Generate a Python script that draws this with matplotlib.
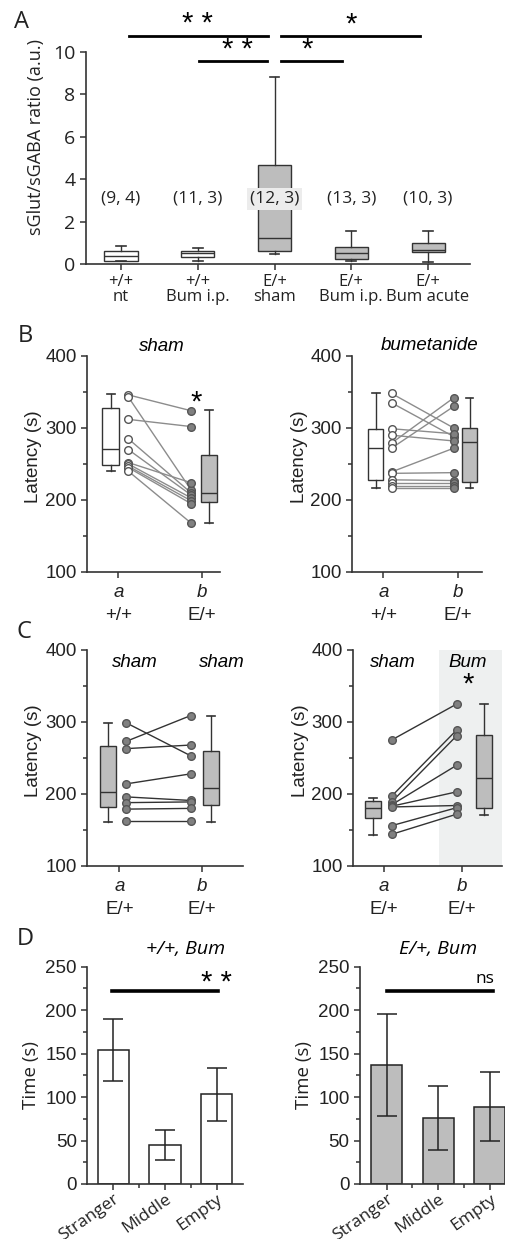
import numpy as np
import matplotlib.pyplot as plt
import matplotlib.transforms as mtransforms
from matplotlib.ticker import MultipleLocator, FixedLocator

plt.rcParams['font.family'] = ['Open Sans', 'DejaVu Sans']
ARIAL = ['Liberation Sans', 'DejaVu Sans']

# ---- data ----
# Panel A: sGlut/sGABA ratio box stats
a_groups = ['+/+\nnt', '+/+\nBum i.p.', 'E/+\nsham', 'E/+\nBum i.p.', 'E/+\nBum acute']
a_whislo = [0.12, 0.16, 0.48, 0.12, 0.10]
a_q1 = [0.15, 0.35, 0.60, 0.22, 0.55]
a_med = [0.40, 0.50, 1.25, 0.50, 0.67]
a_q3 = [0.60, 0.63, 4.68, 0.82, 1.00]
a_whishi = [0.85, 0.77, 8.83, 1.55, 1.57]
a_n = ['(9, 4)', '(11, 3)', '(12, 3)', '(13, 3)', '(10, 3)']
a_filled = [False, False, True, True, True]

# Panel B: latency, paired a (+/+) -> b (E/+)
b_sham_a = [346, 343, 312, 285, 270, 252, 250, 247, 245, 240]
b_sham_b = [324, 214, 302, 210, 207, 224, 203, 199, 195, 168]
b_sham_box_a = [240, 248, 271, 328, 347]   # whislo, q1, med, q3, whishi
b_sham_box_b = [168, 197, 210, 262, 325]
b_bum_a = [348, 335, 299, 290, 279, 272, 239, 237, 228, 223, 220, 217]
b_bum_b = [300, 288, 292, 282, 342, 330, 272, 238, 227, 223, 220, 217]
b_bum_box_a = [217, 228, 272, 298, 348]
b_bum_box_b = [217, 225, 281, 300, 342]

# Panel C: latency, E/+ a -> E/+ b
c_sham_a = [299, 273, 263, 214, 196, 188, 179, 162]
c_sham_b = [253, 309, 268, 228, 191, 189, 180, 162]
c_sham_box_a = [161, 182, 203, 267, 298]
c_sham_box_b = [161, 185, 209, 260, 309]
c_bum_a = [275, 197, 189, 185, 183, 182, 156, 144]
c_bum_b = [325, 289, 281, 240, 203, 184, 181, 172]
c_bum_box_a = [143, 166, 181, 190, 195]
c_bum_box_b = [171, 180, 222, 282, 325]

# Panel D: three-chamber time
d_cats = ['Stranger', 'Middle', 'Empty']
d_wt_mean = [154, 45, 103]
d_wt_err = [36, 17, 31]
d_e_mean = [137, 76, 89]
d_e_err = [59, 37, 40]

WHITE = 'white'
GRAY = '#bdbdbd'
DARK = '#333333'

W, H = 506, 1239
fig = plt.figure(figsize=(W / 100, H / 100), dpi=100)


def add_ax(left, top, right, bottom):
    return fig.add_axes([left / W, 1 - bottom / H, (right - left) / W, (bottom - top) / H])


def stat(v):
    return dict(whislo=v[0], q1=v[1], med=v[2], q3=v[3], whishi=v[4], fliers=[])


def draw_box(ax, v, x, fc, width=0.2, capw=0.1):
    res = ax.bxp([stat(v)], positions=[x], widths=width, capwidths=capw,
                 patch_artist=True, showfliers=False,
                 boxprops=dict(facecolor=fc, edgecolor=DARK, linewidth=1),
                 medianprops=dict(color=DARK, linewidth=1),
                 whiskerprops=dict(color=DARK, linewidth=1),
                 capprops=dict(color=DARK, linewidth=1.2), manage_ticks=False)
    return res


def style_axes(ax, fam, size=13):
    for s in ['top', 'right']:
        ax.spines[s].set_visible(False)
    for s in ['left', 'bottom']:
        ax.spines[s].set_color(DARK)
        ax.spines[s].set_linewidth(1.2)
    ax.tick_params(colors=DARK, width=1.1, length=4, labelsize=size)
    for lab in ax.get_yticklabels() + ax.get_xticklabels():
        lab.set_family(fam)
        lab.set_color('#222222')


# ---- Panel A ----
ax = add_ax(86, 9.6, 470, 264)
pos = np.arange(1, 6)
stats = [stat(v) for v in zip(a_whislo, a_q1, a_med, a_q3, a_whishi)]
res = ax.bxp(stats, positions=pos, widths=0.43, capwidths=0.13, patch_artist=True,
             showfliers=False, boxprops=dict(edgecolor=DARK, linewidth=1),
             medianprops=dict(color=DARK, linewidth=1),
             whiskerprops=dict(color=DARK, linewidth=1),
             capprops=dict(color=DARK, linewidth=1.2))
for patch, f in zip(res['boxes'], a_filled):
    patch.set_facecolor(GRAY if f else WHITE)
ax.set_xlim(0.544, 5.547)
ax.set_ylim(0, 12)
ax.spines['left'].set_bounds(0, 10)
ax.set_yticks(range(0, 11, 2))
ax.set_xticks(pos, a_groups, linespacing=0.9)
style_axes(ax, ['Open Sans', 'DejaVu Sans'], size=14)
ax.tick_params(axis='x', labelsize=12, pad=3)
ax.set_ylabel('sGlut/sGABA ratio (a.u.)', fontsize=13, color='#222222', labelpad=6)
for i, t in enumerate(a_n):
    bb = dict(facecolor='#ececec', edgecolor='none', pad=2) if i == 2 else None
    ax.text(pos[i], 3.07, t, ha='center', va='center', fontsize=12.5, color='#222222', bbox=bb)
# significance brackets
for x0, x1, y in [(1.1, 2.91, 10.77), (3.09, 4.9, 10.77), (2.01, 2.9, 9.57), (3.08, 3.88, 9.57)]:
    ax.plot([x0, x1], [y, y], color='k', lw=2, clip_on=False)
for x, y, s in [(2.0, 11.3, '* *'), (4.0, 11.3, '*'), (2.52, 10.1, '* *'), (3.43, 10.1, '*')]:
    ax.text(x, y, s, ha='center', va='center', fontsize=21, family=ARIAL)


# ---- Panels B and C ----
def paired(ax, a, b, box_a, box_b, xs, fc_a, fc_b, mfc_a, mfc_b, line_c, xlim):
    xba, xpa, xpb, xbb = xs
    for va, vb in zip(a, b):
        ax.plot([xpa, xpb], [va, vb], color=line_c, lw=1, zorder=2)
    ax.plot(np.full(len(a), xpa), a, 'o', ms=5.5, mfc=mfc_a, mec='#555555', mew=1, zorder=3)
    ax.plot(np.full(len(b), xpb), b, 'o', ms=5.5, mfc=mfc_b, mec='#555555', mew=1, zorder=3)
    draw_box(ax, box_a, xba, fc_a)
    draw_box(ax, box_b, xbb, fc_b)
    ax.set_xlim(*xlim)
    ax.set_ylim(100, 420)
    ax.spines['left'].set_bounds(100, 400)
    ax.set_yticks([100, 200, 300, 400])
    ax.yaxis.set_minor_locator(FixedLocator([150, 250, 350]))
    ax.tick_params(axis='y', which='minor', length=3, width=1.1, colors=DARK)
    ax.set_ylabel('Latency (s)', fontsize=13.5, family=ARIAL, color='#222222', labelpad=2)


def x_labels(ax, letters, genos):
    ax.set_xticks([1, 2], genos)
    style_axes(ax, ARIAL, size=13.5)
    ax.tick_params(axis='x', pad=21)
    for x, l in zip([1, 2], letters):
        ax.annotate(l, xy=(x, 0), xycoords=('data', 'axes fraction'), xytext=(0, -14.5),
                    textcoords='offset points', ha='center', va='center', fontsize=13.5,
                    style='italic', family=ARIAL, color='#222222')


# B left
ax = add_ax(87, 341.6, 220, 572)
paired(ax, b_sham_a, b_sham_b, b_sham_box_a, b_sham_box_b, (0.909, 1.12, 1.869, 2.084),
       WHITE, GRAY, 'white', '#808080', '#8c8c8c', (0.626, 2.215))
x_labels(ax, ['a', 'b'], ['+/+', 'E/+'])
ax.text(1.52, 413, 'sham', ha='center', va='center', fontsize=13.5, style='italic', family=ARIAL)
ax.text(1.93, 335, '*', ha='center', va='center', fontsize=21, family=ARIAL)

# B right
ax = add_ax(352.3, 341.6, 481.7, 572)
paired(ax, b_bum_a, b_bum_b, b_bum_box_a, b_bum_box_b, (0.9, 1.11, 1.94, 2.15),
       WHITE, GRAY, 'white', '#808080', '#8c8c8c', (0.587, 2.312))
x_labels(ax, ['a', 'b'], ['+/+', 'E/+'])
ax.text(1.62, 414, 'bumetanide', ha='center', va='center', fontsize=13.5, style='italic', family=ARIAL)

# C left
ax = add_ax(87, 635.6, 242.7, 866)
paired(ax, c_sham_a, c_sham_b, c_sham_box_a, c_sham_box_b, (0.863, 1.08, 1.863, 2.108),
       GRAY, GRAY, '#808080', '#808080', DARK, (0.609, 2.49))
x_labels(ax, ['a', 'b'], ['E/+', 'E/+'])
ax.text(1.19, 382, 'sham', ha='center', va='center', fontsize=13.5, style='italic', family=ARIAL)
ax.text(2.24, 382, 'sham', ha='center', va='center', fontsize=13.5, style='italic', family=ARIAL)

# C right
ax = add_ax(353.3, 635.6, 501.7, 866)
ax.axvspan(1.706, 2.503, ymin=0, ymax=300 / 320, color='#eef0f0', zorder=0, lw=0)
paired(ax, c_bum_a, c_bum_b, c_bum_box_a, c_bum_box_b, (0.863, 1.098, 1.929, 2.277),
       GRAY, GRAY, '#808080', '#808080', DARK, (0.608, 2.503))
x_labels(ax, ['a', 'b'], ['E/+', 'E/+'])
ax.text(1.115, 382, 'sham', ha='center', va='center', fontsize=13.5, style='italic', family=ARIAL)
ax.text(2.073, 382, 'Bum', ha='center', va='center', fontsize=13.5, style='italic', family=ARIAL)
ax.text(2.073, 352, '*', ha='center', va='center', fontsize=21, family=ARIAL)


# ---- Panel D ----
def bars(ax, means, errs, fc, xlim, title, tx, sig, sx, sline):
    x = np.arange(len(d_cats))
    ax.bar(x, means, width=0.6, yerr=errs, color=fc, edgecolor='#222222', linewidth=1.1,
           error_kw=dict(ecolor='#222222', elinewidth=1.1, capsize=7, capthick=1.1))
    ax.set_xlim(*xlim)
    ax.set_ylim(0, 250)
    ax.set_yticks(range(0, 251, 50))
    ax.yaxis.set_minor_locator(MultipleLocator(25))
    ax.xaxis.set_minor_locator(FixedLocator([0.5, 1.5]))
    ax.set_xticks(x, d_cats)
    style_axes(ax, ARIAL, size=13.5)
    ax.tick_params(which='minor', length=3, width=1.1, colors=DARK)
    shift = mtransforms.ScaledTranslation(8 / 72, 3 / 72, fig.dpi_scale_trans)
    for lab in ax.get_xticklabels():
        lab.set_family(['Open Sans', 'DejaVu Sans'])
        lab.set_rotation(35)
        lab.set_ha('right')
        lab.set_rotation_mode('anchor')
        lab.set_fontsize(12.5)
        lab.set_transform(lab.get_transform() + shift)
    ax.tick_params(axis='x', pad=1)
    ax.set_ylabel('Time (s)', fontsize=13.5, color='#222222', labelpad=4)
    ax.text(tx, 270, title, ha='center', va='center', fontsize=14, style='italic', clip_on=False)
    ax.plot(sline, [222, 222], color='k', lw=2.6, clip_on=False)
    ax.text(sx[0], sx[1], sig, ha='center', va='center', fontsize=sx[2],
            family=ARIAL if '*' in sig else None, clip_on=False)


ax = add_ax(87.3, 966.7, 242.7, 1184)
bars(ax, d_wt_mean, d_wt_err, WHITE, (-0.503, 2.503), '+/+, Bum', 1.39, '* *', (1.99, 231, 21), (-0.025, 2.02))
ax = add_ax(360, 966.7, 506, 1184)
bars(ax, d_e_mean, d_e_err, GRAY, (-0.516, 2.31), 'E/+, Bum', 0.99, 'ns', (1.9, 236, 12.5), (0.0, 2.05))

# panel letters
for (x, y, l) in [(21, 22.5, 'A'), (25, 336, 'B'), (24, 632, 'C'), (25, 939, 'D')]:
    fig.text(x / W, 1 - y / H, l, ha='center', va='center', fontsize=17, color='#222222')

fig.savefig('out.png', dpi=100)
